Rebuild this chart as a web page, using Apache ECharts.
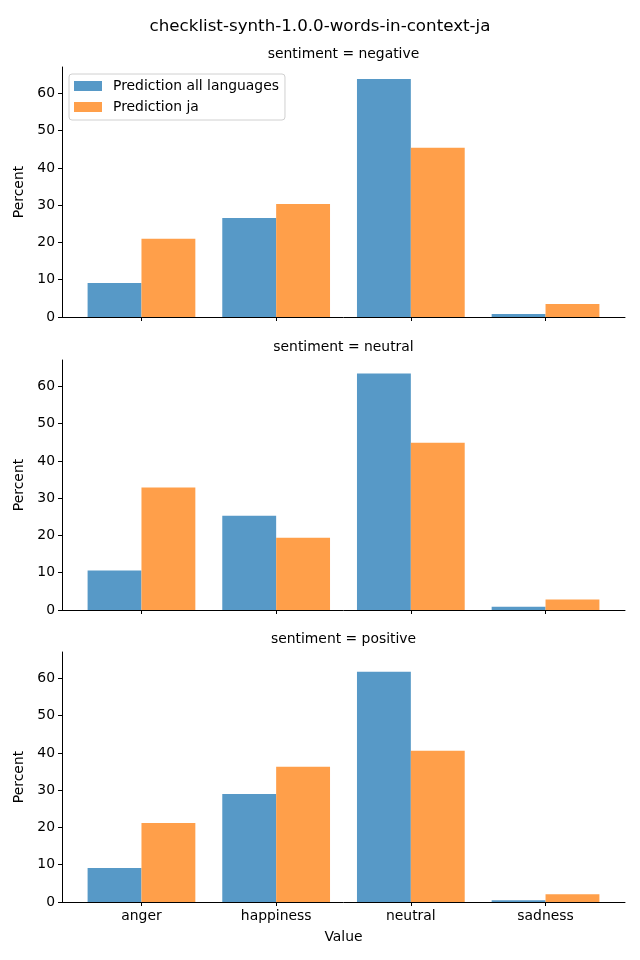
<!DOCTYPE html>
<html>
<head>
<meta charset="utf-8">
<script src="https://cdn.jsdelivr.net/npm/echarts@6/dist/echarts.min.js"></script>
<style>html,body{margin:0;padding:0;background:#fff}#c{width:640px;height:960px}</style>
</head>
<body>
<div id="c"></div>
<script>
const chartTitle = 'checklist-synth-1.0.0-words-in-context-ja';
const categories = ['anger', 'happiness', 'neutral', 'sadness'];
const panels = ['sentiment = negative', 'sentiment = neutral', 'sentiment = positive'];
const seriesNames = ['Prediction all languages', 'Prediction ja'];
const allLangNegative = [9.1, 26.6, 63.9, 0.8];
const jaNegative = [21.0, 30.3, 45.4, 3.5];
const allLangNeutral = [10.6, 25.3, 63.5, 0.9];
const jaNeutral = [32.9, 19.4, 44.9, 2.8];
const allLangPositive = [9.1, 29.0, 61.8, 0.5];
const jaPositive = [21.2, 36.3, 40.6, 2.1];
const yTicks = [0, 10, 20, 30, 40, 50, 60];
const yMax = 67.1;

const panelData = [[allLangNegative, jaNegative], [allLangNeutral, jaNeutral], [allLangPositive, jaPositive]];
const colors = ['#5799c7', '#ff9f4a'];
const font = 'DejaVu Sans';
const tops = [67, 360, 652];
const plotH = 250;
const plotLeft = 62, plotW = 563;
const unit = plotW / 4.18;
const innerLeft = plotLeft + 0.09 * unit;
const innerW = 4 * unit;

const grid = [], xAxis = [], yAxis = [], series = [];
const title = [{
  text: chartTitle, left: 'center', top: 18, padding: 0,
  textStyle: {fontFamily: font, fontSize: 16.7, fontWeight: 'normal', color: '#000'}
}];
panels.forEach((p, i) => {
  title.push({
    text: p, left: plotLeft + plotW / 2, textAlign: 'center', top: tops[i] - 20, padding: 0,
    textStyle: {fontFamily: font, fontSize: 13.9, fontWeight: 'normal', color: '#000'}
  });
  grid.push({left: plotLeft, top: tops[i], width: plotW, height: plotH});
  grid.push({left: innerLeft, top: tops[i], width: innerW, height: plotH});
  const last = i === panels.length - 1;
  xAxis.push({
    type: 'value', gridIndex: 2 * i, min: 0, max: 1,
    axisLine: {show: true, lineStyle: {color: '#000', width: 1}},
    axisTick: {show: false}, axisLabel: {show: false}, splitLine: {show: false}
  });
  xAxis.push({
    type: 'category', gridIndex: 2 * i + 1, data: categories,
    axisLine: {show: false},
    axisTick: {show: true, alignWithLabel: true, length: 4, lineStyle: {color: '#000', width: 1}},
    axisLabel: {show: last, margin: 7, fontFamily: font, fontSize: 13.9, color: '#000'},
    name: last ? 'Value' : '', nameLocation: 'middle', nameGap: 28,
    nameTextStyle: {fontFamily: font, fontSize: 13.9, color: '#000'},
    splitLine: {show: false}
  });
  yAxis.push({
    type: 'value', gridIndex: 2 * i, min: 0, max: yMax,
    axisLine: {show: true, lineStyle: {color: '#000', width: 1}},
    axisTick: {show: true, length: 4, customValues: yTicks, lineStyle: {color: '#000', width: 1}},
    axisLabel: {margin: 7, customValues: yTicks, fontFamily: font, fontSize: 13.9, color: '#000'},
    splitLine: {show: false},
    name: 'Percent', nameLocation: 'middle', nameGap: 30,
    nameTextStyle: {fontFamily: font, fontSize: 13.9, color: '#000'}
  });
  yAxis.push({type: 'value', gridIndex: 2 * i + 1, min: 0, max: yMax, show: false});
  panelData[i].forEach((vals, k) => {
    series.push({
      type: 'bar', name: seriesNames[k], xAxisIndex: 2 * i + 1, yAxisIndex: 2 * i + 1,
      data: vals, barGap: '0%', barCategoryGap: '20%',
      itemStyle: {color: colors[k]}
    });
  });
});

const chart = echarts.init(document.getElementById('c'), null, {renderer: 'canvas'});
chart.setOption({
  animation: false,
  backgroundColor: '#fff',
  color: colors,
  title,
  legend: {
    data: seriesNames, orient: 'vertical', left: 69, top: 74,
    padding: [5, 6, 6, 5], itemGap: 7, itemWidth: 28, itemHeight: 10,
    borderColor: '#d0d0d0', borderWidth: 1, borderRadius: 3, backgroundColor: '#fff',
    icon: 'rect',
    textStyle: {fontFamily: font, fontSize: 13.9, color: '#000', lineHeight: 14, padding: [0, 0, 0, 6]}
  },
  grid, xAxis, yAxis, series
});
</script>
</body>
</html>
